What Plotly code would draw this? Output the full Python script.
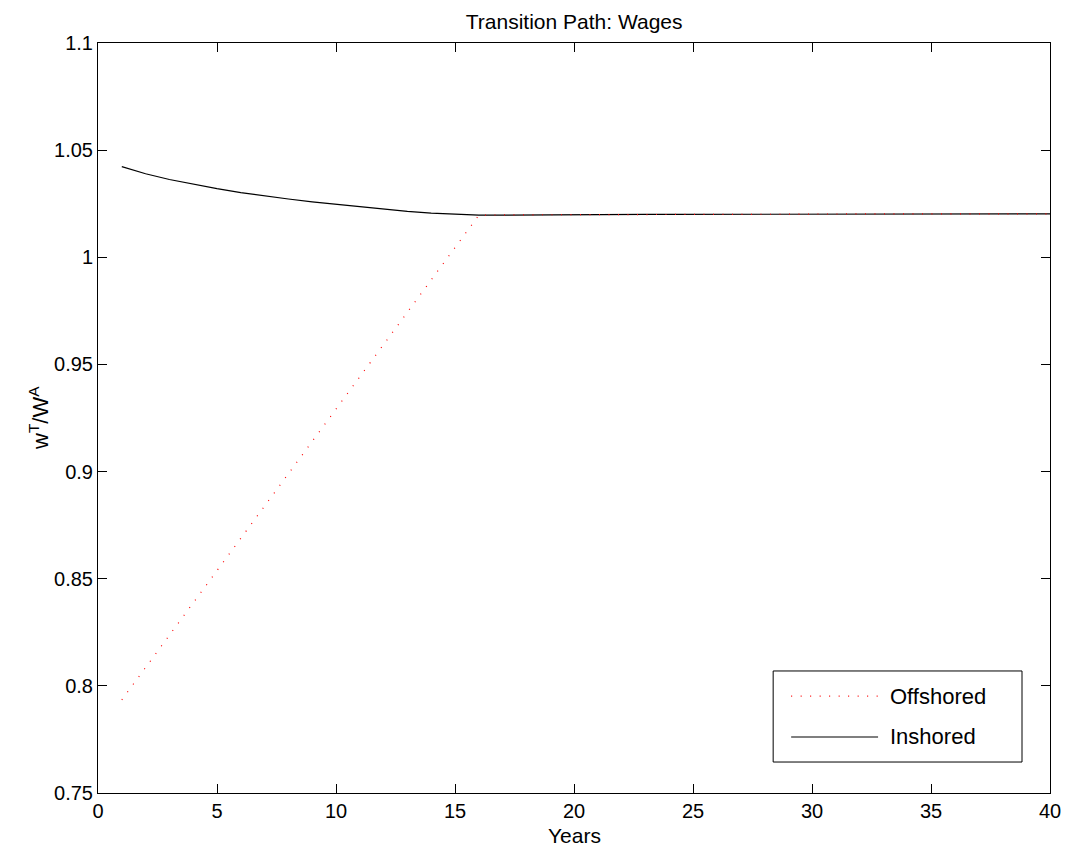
import plotly.graph_objects as go

years = list(range(1, 41))

inshored = [1.0423, 1.0390, 1.0363, 1.0340, 1.0320, 1.0302, 1.0286, 1.0272, 1.0259, 1.0247,
            1.0236, 1.0224, 1.0214, 1.0206, 1.0200, 1.0197, 1.0197, 1.0198, 1.0198, 1.0199,
            1.0199, 1.0199, 1.0200, 1.0200, 1.0200, 1.0200, 1.0201, 1.0201, 1.0201, 1.0201,
            1.0201, 1.0202, 1.0202, 1.0202, 1.0202, 1.0202, 1.0202, 1.0203, 1.0203, 1.0203]

offshored = [0.7935, 0.8086, 0.8237, 0.8388, 0.8538, 0.8689, 0.8840, 0.8990, 0.9141, 0.9292,
             0.9443, 0.9593, 0.9744, 0.9895, 1.0046, 1.0196, 1.0198, 1.0198, 1.0199, 1.0199,
             1.0199, 1.0200, 1.0200, 1.0200, 1.0200, 1.0201, 1.0201, 1.0201, 1.0201, 1.0202,
             1.0202, 1.0202, 1.0202, 1.0202, 1.0203, 1.0203, 1.0203, 1.0203, 1.0203, 1.0203]

x_ticks = [0, 5, 10, 15, 20, 25, 30, 35, 40]
y_ticks = [0.75, 0.8, 0.85, 0.9, 0.95, 1.0, 1.05, 1.1]
y_tick_labels = ["0.75", "0.8", "0.85", "0.9", "0.95", "1", "1.05", "1.1"]

FONT = "Liberation Sans, Arial, Helvetica, sans-serif"
DOT = "1px,8.5px"

fig = go.Figure()
fig.add_trace(go.Scatter(x=years, y=inshored, mode="lines", name="Inshored",
                         line=dict(color="black", width=1.2)))
fig.add_trace(go.Scatter(x=years, y=offshored, mode="lines", name="Offshored",
                         line=dict(color="red", width=1.2, dash=DOT)))

axis_common = dict(showline=True, linecolor="black", linewidth=1, mirror="ticks",
                   ticks="inside", ticklen=9, tickcolor="black", tickwidth=1,
                   showgrid=False, zeroline=False, automargin=False,
                   tickfont=dict(family=FONT, size=20, color="black"))

fig.update_xaxes(range=[0, 40], tickvals=x_ticks, title=None, **axis_common)
fig.update_yaxes(range=[0.75, 1.1], tickvals=y_ticks, ticktext=y_tick_labels, title=None,
                 **axis_common)

# Legend box drawn in paper coordinates (MATLAB style)
lx0, lx1, ly0, ly1 = 0.7092, 0.9706, 0.0413, 0.1627
sx0, sx1 = 0.7281, 0.8194
row_off, row_in = 0.1293, 0.0747
shapes = [
    dict(type="rect", xref="paper", yref="paper", x0=lx0, x1=lx1, y0=ly0, y1=ly1,
         line=dict(color="black", width=1), fillcolor="white", layer="above"),
    dict(type="line", xref="paper", yref="paper", x0=sx0, x1=sx1, y0=row_off, y1=row_off,
         line=dict(color="red", width=1.2, dash=DOT), layer="above"),
    dict(type="line", xref="paper", yref="paper", x0=sx0, x1=sx1, y0=row_in, y1=row_in,
         line=dict(color="black", width=1.2), layer="above"),
]
annotations = [
    dict(xref="paper", yref="paper", x=0.8299, y=row_off, text="Offshored", showarrow=False,
         xanchor="left", yanchor="middle", font=dict(family=FONT, size=22, color="black")),
    dict(xref="paper", yref="paper", x=0.8299, y=row_in, text="Inshored", showarrow=False,
         xanchor="left", yanchor="middle", font=dict(family=FONT, size=22, color="black")),
    # axis titles
    dict(xref="paper", yref="paper", x=0.5, y=-0.057, text="Years", showarrow=False,
         xanchor="center", yanchor="middle", font=dict(family=FONT, size=21, color="black")),
    dict(xref="paper", yref="paper", x=-0.062, y=0.5, text="w<sup>T</sup>/W<sup>A</sup>",
         showarrow=False, textangle=-90, xanchor="center", yanchor="middle",
         font=dict(family=FONT, size=22, color="black")),
]

fig.update_layout(
    width=1067, height=854,
    margin=dict(l=97.5, r=17, t=43, b=61, pad=0),
    paper_bgcolor="white", plot_bgcolor="white",
    showlegend=False,
    title=dict(text="Transition Path: Wages", x=0.5381, xanchor="center",
               y=0.975, yanchor="middle",
               font=dict(family=FONT, size=21, color="black")),
    shapes=shapes, annotations=annotations,
)

fig.write_html("out.html")
